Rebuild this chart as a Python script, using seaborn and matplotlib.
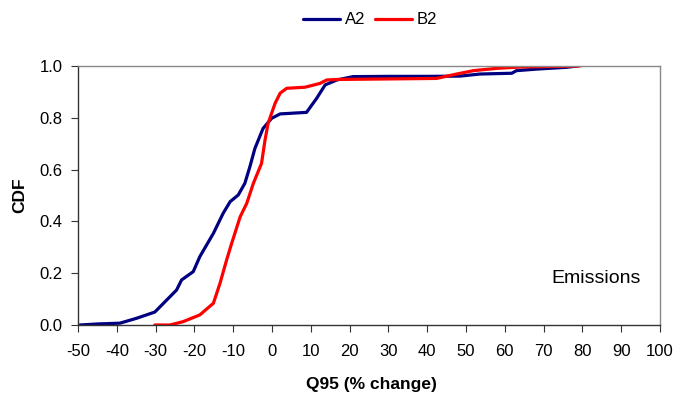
import matplotlib
matplotlib.use("Agg")
import matplotlib.pyplot as plt
import seaborn as sns
import pandas as pd
from matplotlib.ticker import FormatStrFormatter

# A2 curve (x = % change, cdf)
a2_x = [-49.5, -45, -39.2, -34.9, -30.2, -27.1, -24.6, -23.3, -20.3, -18.6, -15.1, -12.6,
        -10.8, -8.7, -7.0, -5.7, -4.4, -2.3, -0.1, 2.1, 8.9, 11.5, 13.7, 16.7, 20.9,
        30, 40, 48.5, 53.6, 61.8, 63.0, 68.2, 75.9, 78.8]
a2_y = [0.0, 0.004, 0.007, 0.026, 0.05, 0.097, 0.135, 0.174, 0.206, 0.264, 0.354, 0.431,
        0.476, 0.502, 0.547, 0.611, 0.682, 0.759, 0.798, 0.815, 0.821, 0.875, 0.927, 0.946, 0.959,
        0.96, 0.96, 0.961, 0.969, 0.972, 0.982, 0.988, 0.995, 1.0]

# B2 curve
b2_x = [-30.2, -26.3, -22.9, -18.6, -15.1, -13.4, -11.7, -10.4, -8.2, -6.5, -4.8, -2.7,
        -1.8, -1.0, 0.8, 2.1, 3.8, 8.5, 12.4, 14.1, 16.7, 30, 42.4, 47.6, 51.9, 57.9,
        63.9, 79.4]
b2_y = [0.0, 0.0, 0.013, 0.039, 0.084, 0.161, 0.251, 0.315, 0.418, 0.47, 0.547, 0.624,
        0.714, 0.779, 0.856, 0.895, 0.914, 0.918, 0.933, 0.946, 0.948, 0.95, 0.952, 0.969,
        0.982, 0.991, 0.996, 1.0]

series_names = ["A2", "B2"]
series_colors = ["#000080", "#FF0000"]

x_ticks = list(range(-50, 101, 10))
y_ticks = [0.0, 0.2, 0.4, 0.6, 0.8, 1.0]

df = pd.concat([
    pd.DataFrame({"x": a2_x, "cdf": a2_y, "scenario": "A2"}),
    pd.DataFrame({"x": b2_x, "cdf": b2_y, "scenario": "B2"}),
])

sns.set_theme(style="white")
plt.rcParams["font.family"] = ["Liberation Sans", "DejaVu Sans"]
plt.rcParams["axes.unicode_minus"] = False
plt.rcParams["text.color"] = "black"
plt.rcParams["axes.labelcolor"] = "black"

fig = plt.figure(figsize=(6.79, 3.99), dpi=100)
ax = fig.add_axes([78 / 679, 1 - 325 / 399, (660 - 78) / 679, (325 - 66) / 399])

sns.lineplot(data=df, x="x", y="cdf", hue="scenario", hue_order=series_names,
             palette=series_colors, sort=False, estimator=None, linewidth=2.3,
             legend=False, ax=ax)

ax.set_xlim(-50, 100)
ax.set_ylim(0, 1)
ax.set_xticks(x_ticks)
ax.set_yticks(y_ticks)
ax.yaxis.set_major_formatter(FormatStrFormatter("%.1f"))
ax.tick_params(axis="both", which="major", direction="out", length=5, width=0.8,
               color="#333333", labelsize=12, labelcolor="black", bottom=True, left=True)
ax.tick_params(axis="x", pad=9)
ax.tick_params(axis="y", pad=6)

for side in ["left", "bottom"]:
    ax.spines[side].set_color("#333333")
    ax.spines[side].set_linewidth(1.0)
for side in ["top", "right"]:
    ax.spines[side].set_visible(True)
    ax.spines[side].set_color("#888888")
    ax.spines[side].set_linewidth(1.0)

ax.set_xlabel("Q95 (% change)", fontsize=12.5, fontweight="bold", color="black")
ax.set_ylabel("CDF", fontsize=12.5, fontweight="bold", color="black")
ax.xaxis.set_label_coords(0.505, -0.2)
ax.yaxis.set_label_coords(-0.088, 0.5)

ax.text(0.967, 0.178, "Emissions", transform=ax.transAxes, ha="right", va="center",
        fontsize=14, color="black")

handles = [plt.Line2D([], [], color=c, lw=2.3) for c in series_colors]
leg = fig.legend(handles, series_names, loc="center", bbox_to_anchor=(370 / 679, 1 - 20 / 399),
                 ncol=2, frameon=False, fontsize=12, handlelength=2.2, handletextpad=0.3,
                 columnspacing=0.6)
for t in leg.get_texts():
    t.set_color("black")

fig.savefig("out.png", dpi=100)
